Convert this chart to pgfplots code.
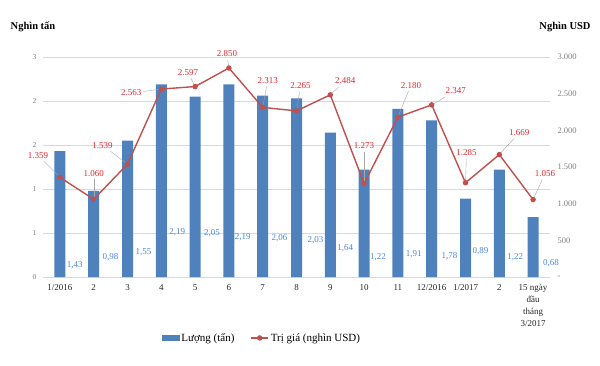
\documentclass[border=0pt]{standalone}
\usepackage{fontspec}
\setmainfont{Liberation Serif}
\usepackage{pgfplots}
\usepackage{pgfplotstable}
\pgfplotsset{compat=1.18}
\definecolor{barblue}{HTML}{4F81BD}
\definecolor{linered}{HTML}{C0504D}
\definecolor{lblred}{HTML}{E3262B}
\definecolor{lblblue}{HTML}{4A86E0}
\definecolor{gridgray}{HTML}{D9D9D9}

\pgfplotstableread{
x v
0 1.43
1 0.98
2 1.55
3 2.19
4 2.05
5 2.19
6 2.06
7 2.03
8 1.64
9 1.22
10 1.91
11 1.78
12 0.89
13 1.22
14 0.68
}\bars

\pgfplotstableread{
x y lbl
0.44 0.136 1,43
1.50 0.227 0,98
2.47 0.284 1,55
3.47 0.511 2,19
4.50 0.500 2,05
5.41 0.455 2,19
6.50 0.443 2,06
7.56 0.420 2,03
8.44 0.330 1,64
9.41 0.227 1,22
10.47 0.260 1,91
11.53 0.240 1,78
12.44 0.295 0,89
13.47 0.227 1,22
14.53 0.160 0,68
}\barlbl

\pgfplotstableread{
x v dx dy lbl u w
0 1359 -22 22 1.359 -0.473 218
1 1060 0 26 1.060 0 273
2 1539 -25 19 1.539 -0.506 177
3 2563 -30 -4 2.563 -0.533 -33
4 2597 -7 14 2.597 -0.118 109
5 2850 -2 14 2.850 -0.034 109
6 2313 5 27 2.313 0.115 286
7 2265 4 25 2.265 0.089 259
8 2484 15 14 2.484 0.253 109
9 1273 0 38 1.273 0 436
10 2180 13 32 2.180 0.313 355
11 2347 24 14 2.347 0.405 109
12 1285 1 30 1.285 0.024 327
13 1669 20 22 1.669 0.43 218
14 1056 12 26 1.056 0.272 273
}\vals

\pgfplotsset{base/.style={
  scale only axis, width=507pt, height=220pt,
  at={(43pt,88pt)}, anchor=south west,
  xmin=-0.5, xmax=14.5,
  axis line style={draw=none}, tick style={draw=none},
  clip=false,
}}

\begin{document}
\begin{tikzpicture}
\useasboundingbox (0,0) rectangle (600pt,365pt);
\begin{axis}[base,
  ymin=0, ymax=2.5,
  ytick={0,0.5,1,1.5,2,2.5}, yticklabels={0,1,1,2,2,3},
  ymajorgrids, grid style={gridgray, line width=0.6pt},
  xtick={0,...,14},
  xticklabels={1/2016,2,3,4,5,6,7,8,9,10,11,12/2016,1/2017,2,{15 ngày\\đầu\\tháng\\3/2017}},
  xticklabel style={align=center, font=\fontsize{9}{12}\selectfont, text=black!85, yshift=-4pt},
  yticklabel style={font=\fontsize{7.5}{9}\selectfont, text=gray, xshift=-3pt},
]
\addplot[ybar, bar width=11pt, fill=barblue, draw=none] table[x=x,y=v]{\bars};
\addplot[draw=none, nodes near coords, point meta=explicit symbolic,
  every node near coord/.append style={anchor=center, font=\fontsize{9}{10}\selectfont, text=lblblue}]
  table[x=x,y=y,meta=lbl]{\barlbl};
\end{axis}
\begin{axis}[base,
  ymin=0, ymax=3000,
  axis y line*=right, axis x line=none,
  xtick=\empty,
  ytick={0,500,1000,1500,2000,2500,3000},
  yticklabels={-,500,1.000,1.500,2.000,2.500,3.000},
  yticklabel style={font=\fontsize{8.5}{10}\selectfont, text=gray, anchor=west, xshift=4pt},
  legend style={at={(0.432,-0.277)}, anchor=center, draw=none, fill=none,
    legend columns=2, font=\fontsize{11}{13}\selectfont,
    /tikz/every even column/.append style={column sep=14pt}},
]
\addlegendimage{legend image code/.code={\fill[barblue] (0pt,-2.5pt) rectangle (17pt,2.5pt);}}
\addlegendentry{Lượng (tấn)}
\addplot[linered, line width=1.4pt, mark=*, mark size=2pt, mark options={fill=linered}] table[x=x,y=v]{\vals};
\addlegendentry{Trị giá (nghìn USD)}
\addplot[forget plot, gray!70, line width=0.4pt, quiver={u=\thisrow{u}, v=\thisrow{w}}] table[x=x,y=v]{\vals};
\addplot[forget plot, draw=none, nodes near coords, point meta=explicit symbolic,
  visualization depends on={\thisrow{dx} \as \dx},
  visualization depends on={\thisrow{dy} \as \dy},
  every node near coord/.append style={anchor=center, xshift=\dx pt, yshift=\dy pt,
    font=\fontsize{9}{10}\selectfont, text=lblred}]
  table[x=x,y=v,meta=lbl]{\vals};
\end{axis}
\node[font=\bfseries\fontsize{10.5}{12}\selectfont] at (33pt,338pt) {Nghìn tấn};
\node[font=\bfseries\fontsize{10.5}{12}\selectfont] at (565pt,338pt) {Nghìn USD};
\end{tikzpicture}
\end{document}
